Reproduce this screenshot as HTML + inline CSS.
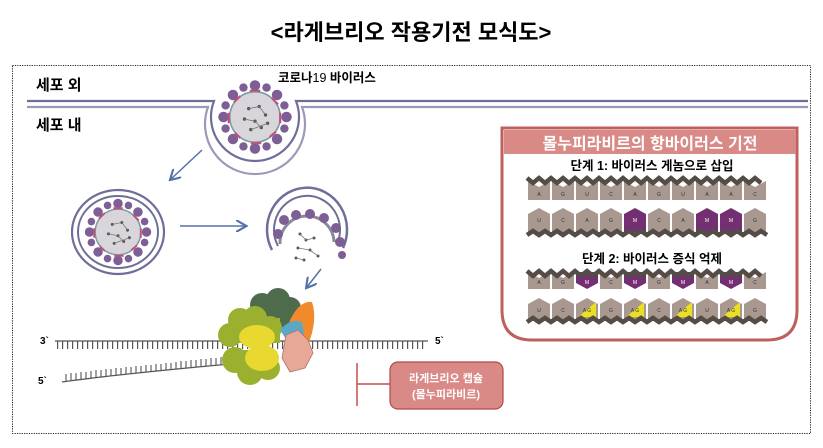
<!DOCTYPE html>
<html><head><meta charset="utf-8"><style>
html,body{margin:0;padding:0;background:#fff;width:823px;height:448px;overflow:hidden}
svg{display:block;font-family:"Liberation Sans","Noto Sans CJK KR",sans-serif}
</style></head><body>
<svg width="823" height="448" viewBox="0 0 823 448" xmlns="http://www.w3.org/2000/svg">
<defs>
<pattern id="tk" x="0" y="0" width="5" height="10" patternUnits="userSpaceOnUse"><rect x="2" y="0" width="1.2" height="10" fill="#555"/></pattern>
<marker id="ar" markerWidth="8" markerHeight="8" refX="6" refY="4" orient="auto"><path d="M0,0 L7,4 L0,8" fill="none" stroke="#5570a8" stroke-width="1.4"/></marker>
<g id="vir">
<circle r="24" fill="#d8d6da" stroke="#7a9aa0" stroke-width="1.5"/>
<g fill="#7d5e95">
<circle cx="0" cy="-30" r="5"/><circle cx="21" cy="-21" r="5"/><circle cx="30" cy="0" r="5"/><circle cx="21" cy="21" r="5"/><circle cx="0" cy="30" r="5"/><circle cx="-21" cy="21" r="5"/><circle cx="-30" cy="0" r="5"/><circle cx="-21" cy="-21" r="5"/>
<circle cx="11" cy="-28" r="4"/><circle cx="28" cy="-11" r="4"/><circle cx="28" cy="11" r="4"/><circle cx="11" cy="28" r="4"/><circle cx="-11" cy="28" r="4"/><circle cx="-28" cy="11" r="4"/><circle cx="-28" cy="-11" r="4"/><circle cx="-11" cy="-28" r="4"/>
</g>
<g stroke="#c0507a" stroke-width="2">
<path d="M-5,-25 L5,-25 M16,-18 L22,-12 M24,-4 L24,6 M14,19 L20,14 M-4,25 L6,25 M-19,15 L-14,20 M-25,-4 L-25,6 M-20,-14 L-14,-20"/>
</g>
<g fill="#555"><circle cx="-6" cy="-8" r="1.6"/><circle cx="4" cy="-10" r="1.6"/><circle cx="10" cy="-2" r="1.6"/><circle cx="-10" cy="2" r="1.6"/><circle cx="0" cy="4" r="1.6"/><circle cx="6" cy="10" r="1.6"/><circle cx="-4" cy="12" r="1.6"/><circle cx="12" cy="6" r="1.6"/></g>
<path d="M-6,-8 L4,-10 L10,-2 M-10,2 L0,4 L6,10 M-4,12 L12,6" stroke="#777" stroke-width="0.8" fill="none"/>
</g>
</defs>
<text x="411" y="40" text-anchor="middle" font-size="22" font-weight="bold" fill="#000">&lt;라게브리오 작용기전 모식도&gt;</text>
<rect x="12.5" y="65.5" width="798" height="368" fill="none" stroke="#222" stroke-dasharray="1.2 1.2"/>
<text x="36" y="90" font-size="15" font-weight="bold">세포 외</text>
<text x="36" y="130" font-size="15" font-weight="bold">세포 내</text>
<text x="278" y="82" font-size="12.5" font-weight="bold">코로나<tspan font-weight="normal">19</tspan> 바이러스</text>
<g fill="none" stroke="#6e6e98" stroke-width="2.2">
<path d="M27,101 L214,101 A44,44 0 1 0 296,101 L808,101"/>
<path d="M27,107 L208,107 A50,50 0 1 0 302,107 L808,107" stroke="#9a9ab8"/>
</g>
<g transform="translate(255,117) scale(1.05)"><use href="#vir"/></g>
<ellipse cx="118" cy="232" rx="46" ry="42" fill="none" stroke="#6e6e98" stroke-width="2.2"/>
<ellipse cx="118" cy="232" rx="40" ry="36" fill="none" stroke="#6e6e98" stroke-width="2"/>
<g transform="translate(118,232) scale(0.95)"><use href="#vir"/></g>
<path d="M272,250 A40,42 0 1 1 343,248" fill="none" stroke="#6e6e98" stroke-width="2.5"/>
<path d="M278,246 A33,34 0 1 1 337,244" fill="none" stroke="#6e6e98" stroke-width="2"/>
<path d="M280,244 A26,26 0 0 1 334,242" fill="none" stroke="#8a8a9a" stroke-width="3"/>
<g fill="#7d5e95"><circle cx="284" cy="220" r="5"/><circle cx="296" cy="215" r="5"/><circle cx="310" cy="214" r="5"/><circle cx="324" cy="218" r="5"/><circle cx="336" cy="228" r="5"/><circle cx="278" cy="234" r="5"/><circle cx="340" cy="242" r="5"/><circle cx="342" cy="255" r="4"/></g>
<g fill="#555"><circle cx="300" cy="234" r="1.5"/><circle cx="306" cy="240" r="1.5"/><circle cx="314" cy="238" r="1.5"/><circle cx="298" cy="248" r="1.5"/><circle cx="310" cy="250" r="1.5"/><circle cx="318" cy="256" r="1.5"/><circle cx="304" cy="260" r="1.5"/><circle cx="296" cy="258" r="1.5"/></g>
<path d="M300,234 L306,240 L314,238 M298,248 L310,250 L318,256 M296,258 L304,260" stroke="#777" stroke-width="0.8" fill="none"/>
<g stroke="#5570a8" stroke-width="1.5" marker-end="url(#ar)">
<line x1="202" y1="150" x2="171" y2="179"/>
<line x1="180" y1="226" x2="245" y2="226"/>
<line x1="321" y1="269" x2="307" y2="287"/>
</g>
<text x="40" y="344" font-size="10" font-weight="bold">3`</text>
<text x="435" y="344" font-size="10" font-weight="bold">5`</text>
<text x="38" y="384" font-size="10" font-weight="bold">5`</text>
<line x1="55" y1="341" x2="428" y2="341" stroke="#555" stroke-width="1.2"/>
<rect x="57" y="341" width="370" height="8" fill="url(#tk)"/>
<path d="M62,382 Q120,374 230,364" stroke="#555" stroke-width="1.2" fill="none"/>
<g stroke="#555" stroke-width="1.1">
<path d="M66,381v-7M71,380v-7M76,380v-7M81,379v-7M86,379v-7M91,378v-7M96,377v-7M101,377v-7M106,376v-7M111,376v-7M116,375v-7M121,375v-7M126,374v-7M131,374v-7M136,373v-7M141,373v-7M146,372v-7M151,372v-7M156,371v-7M161,371v-7M166,370v-7M171,370v-7M176,369v-7M181,368v-7M186,368v-7M191,367v-7M196,367v-7M201,366v-7M206,366v-7M211,365v-7M216,365v-7M221,364v-7"/>
</g>
<g>
<circle cx="262" cy="305" r="12" fill="#4e6b4c"/><circle cx="278" cy="300" r="12" fill="#4e6b4c"/><circle cx="290" cy="308" r="11" fill="#4e6b4c"/><rect x="255" y="305" width="45" height="25" fill="#4e6b4c"/>
<path d="M290,320 Q300,300 312,302 Q318,320 308,345 L285,345 Z" fill="#f08a2a"/>
<circle cx="240" cy="320" r="12" fill="#9ab02e"/><circle cx="230" cy="335" r="12" fill="#9ab02e"/><circle cx="255" cy="318" r="12" fill="#9ab02e"/><circle cx="270" cy="328" r="12" fill="#9ab02e"/><rect x="230" y="318" width="50" height="25" fill="#9ab02e"/>
<circle cx="235" cy="360" r="13" fill="#9ab02e"/><circle cx="250" cy="372" r="13" fill="#9ab02e"/><circle cx="268" cy="368" r="12" fill="#9ab02e"/><rect x="228" y="350" width="45" height="15" fill="#9ab02e"/>
<path d="M280,330 Q290,318 302,322 L305,340 L290,345 Z" fill="#5aa8c8"/>
<ellipse cx="257" cy="337" rx="18" ry="12" fill="#e8d830"/>
<ellipse cx="262" cy="358" rx="17" ry="13" fill="#e8d830"/>
<path d="M286,335 L298,330 L308,340 L313,353 L305,368 L290,372 L282,358 Z" fill="#e8a898" stroke="#b07070" stroke-width="0.8"/>
</g>
<line x1="357" y1="363" x2="357" y2="406" stroke="#c0504e" stroke-width="1.5"/>
<line x1="357" y1="384" x2="390" y2="384" stroke="#c0504e" stroke-width="1.5"/>
<rect x="390" y="362" width="113" height="47" rx="8" fill="#d98a87" stroke="#b04a48" stroke-width="1.2"/>
<text x="446" y="382" text-anchor="middle" font-size="11" font-weight="bold" fill="#fff">라게브리오 캡슐</text>
<text x="446" y="398" text-anchor="middle" font-size="11" font-weight="bold" fill="#fff">(몰누피라비르)</text>
<path d="M502,128 L797,128 L797,310 Q797,340 767,340 L532,340 Q502,340 502,310 Z" fill="#fff" stroke="#c0605e" stroke-width="3"/>
<rect x="504" y="130" width="292" height="24" fill="#d98a87"/>
<text x="650" y="149" text-anchor="middle" font-size="16" font-weight="bold" fill="#fff">몰누피라비르의 항바이러스 기전</text>
<text x="652" y="170" text-anchor="middle" font-size="12.5" font-weight="bold">단계 1: 바이러스 게놈으로 삽입</text>
<text x="652" y="263" text-anchor="middle" font-size="12.5" font-weight="bold">단계 2: 바이러스 증식 억제</text>
<g fill="#a89890">
<path d="M528,181 l11,6 l11,-6 v19 h-22z M552,181 l11,6 l11,-6 v19 h-22z M576,181 l11,6 l11,-6 v19 h-22z M600,181 l11,6 l11,-6 v19 h-22z M624,181 l11,6 l11,-6 v19 h-22z M648,181 l11,6 l11,-6 v19 h-22z M672,181 l11,6 l11,-6 v19 h-22z M696,181 l11,6 l11,-6 v19 h-22z M720,181 l11,6 l11,-6 v19 h-22z M744,181 l11,6 l11,-6 v19 h-22z"/>
<path d="M528,232 v-18 l11,-6 l11,6 v18z M552,232 v-18 l11,-6 l11,6 v18z M576,232 v-18 l11,-6 l11,6 v18z M600,232 v-18 l11,-6 l11,6 v18z M648,232 v-18 l11,-6 l11,6 v18z M672,232 v-18 l11,-6 l11,6 v18z M744,232 v-18 l11,-6 l11,6 v18z"/>
<path d="M528,272 l11,6 l11,-6 v17 h-22z M552,272 l11,6 l11,-6 v17 h-22z M600,272 l11,6 l11,-6 v17 h-22z M648,272 l11,6 l11,-6 v17 h-22z M696,272 l11,6 l11,-6 v17 h-22z M744,272 l11,6 l11,-6 v17 h-22z"/>
<path d="M528,319 v-15 l11,-6 l11,6 v15z M552,319 v-15 l11,-6 l11,6 v15z M576,319 v-15 l11,-6 l11,6 v15z M600,319 v-15 l11,-6 l11,6 v15z M624,319 v-15 l11,-6 l11,6 v15z M648,319 v-15 l11,-6 l11,6 v15z M672,319 v-15 l11,-6 l11,6 v15z M696,319 v-15 l11,-6 l11,6 v15z M720,319 v-15 l11,-6 l11,6 v15z M744,319 v-15 l11,-6 l11,6 v15z"/>
</g>
<g fill="#742f72">
<path d="M624,232 v-18 l11,-6 l11,6 v18z M696,232 v-18 l11,-6 l11,6 v18z M720,232 v-18 l11,-6 l11,6 v18z"/>
<path d="M576,272 l22,0 v11 l-11,6 l-11,-6z M624,272 l22,0 v11 l-11,6 l-11,-6z M672,272 l22,0 v11 l-11,6 l-11,-6z M720,272 l22,0 v11 l-11,6 l-11,-6z"/>
</g>
<g fill="#e8e020"><path d="M578,317 l18,-15 v15z M626,317 l18,-15 v15z M674,317 l18,-15 v15z M722,317 l18,-15 v15z"/></g>
<g stroke="#544c46" stroke-width="4.5" fill="none">
<path d="M527,178 l6,5 l6,-5 l6,5 l6,-5 l6,5 l6,-5 l6,5 l6,-5 l6,5 l6,-5 l6,5 l6,-5 l6,5 l6,-5 l6,5 l6,-5 l6,5 l6,-5 l6,5 l6,-5 l6,5 l6,-5 l6,5 l6,-5 l6,5 l6,-5 l6,5 l6,-5 l6,5 l6,-5 l6,5 l6,-5 l6,5 l6,-5 l6,5 l6,-5 l6,5 l6,-5 l6,5"/>
<path d="M527,235 l6,-4 l6,4 l6,-4 l6,4 l6,-4 l6,4 l6,-4 l6,4 l6,-4 l6,4 l6,-4 l6,4 l6,-4 l6,4 l6,-4 l6,4 l6,-4 l6,4 l6,-4 l6,4 l6,-4 l6,4 l6,-4 l6,4 l6,-4 l6,4 l6,-4 l6,4 l6,-4 l6,4 l6,-4 l6,4 l6,-4 l6,4 l6,-4 l6,4 l6,-4 l6,4 l6,-4 l6,4"/>
<path d="M527,271 l6,5 l6,-5 l6,5 l6,-5 l6,5 l6,-5 l6,5 l6,-5 l6,5 l6,-5 l6,5 l6,-5 l6,5 l6,-5 l6,5 l6,-5 l6,5 l6,-5 l6,5 l6,-5 l6,5 l6,-5 l6,5 l6,-5 l6,5 l6,-5 l6,5 l6,-5 l6,5 l6,-5 l6,5 l6,-5 l6,5 l6,-5 l6,5 l6,-5 l6,5 l6,-5 l6,5"/>
<path d="M527,322 l6,-4 l6,4 l6,-4 l6,4 l6,-4 l6,4 l6,-4 l6,4 l6,-4 l6,4 l6,-4 l6,4 l6,-4 l6,4 l6,-4 l6,4 l6,-4 l6,4 l6,-4 l6,4 l6,-4 l6,4 l6,-4 l6,4 l6,-4 l6,4 l6,-4 l6,4 l6,-4 l6,4 l6,-4 l6,4 l6,-4 l6,4 l6,-4 l6,4 l6,-4 l6,4 l6,-4 l6,4"/>
</g>
<g font-size="5" text-anchor="middle" fill="#333">
<text x="539" y="196">A</text><text x="563" y="196">G</text><text x="587" y="196">U</text><text x="611" y="196">C</text><text x="635" y="196">A</text><text x="659" y="196">G</text><text x="683" y="196">U</text><text x="707" y="196">A</text><text x="731" y="196">A</text><text x="755" y="196">C</text>
<text x="539" y="222">U</text><text x="563" y="222">C</text><text x="587" y="222">A</text><text x="611" y="222">G</text><text x="635" y="222" fill="#fff">M</text><text x="659" y="222">C</text><text x="683" y="222">A</text><text x="707" y="222" fill="#fff">M</text><text x="731" y="222" fill="#fff">M</text><text x="755" y="222">G</text>
<text x="539" y="284">A</text><text x="563" y="284">G</text><text x="587" y="284" fill="#fff">M</text><text x="611" y="284">C</text><text x="635" y="284" fill="#fff">M</text><text x="659" y="284">G</text><text x="683" y="284" fill="#fff">M</text><text x="707" y="284">A</text><text x="731" y="284" fill="#fff">M</text><text x="755" y="284">C</text>
<text x="539" y="312">U</text><text x="563" y="312">C</text><text x="587" y="312">A G</text><text x="611" y="312">G</text><text x="635" y="312">A G</text><text x="659" y="312">C</text><text x="683" y="312">A G</text><text x="707" y="312">U</text><text x="731" y="312">A G</text><text x="755" y="312">G</text>
</g>
</svg>
</body></html>
